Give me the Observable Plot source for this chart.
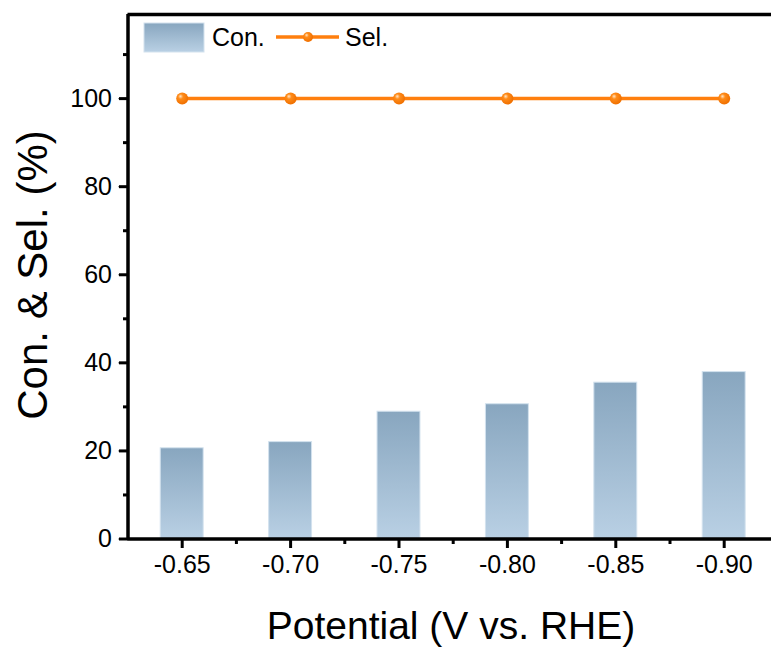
<!DOCTYPE html>
<html>
<head>
<meta charset="utf-8">
<script src="https://cdn.jsdelivr.net/npm/d3@7"></script>
<script src="https://cdn.jsdelivr.net/npm/@observablehq/plot@0.6"></script>
<style>
  html, body { margin: 0; padding: 0; background: #fff; }
  #chart svg { display: block; }
</style>
</head>
<body>
<div id="chart"></div>
<script>
// ---- data ----
const potentials = [-0.65, -0.70, -0.75, -0.80, -0.85, -0.90];
const xTickLabels = ["-0.65", "-0.70", "-0.75", "-0.80", "-0.85", "-0.90"];
const conversion = [20.6, 22.0, 28.9, 30.6, 35.5, 37.9];
const selectivity = [100, 100, 100, 100, 100, 100];
const yTicks = [0, 20, 40, 60, 80, 100];
const yMinorTicks = [10, 30, 50, 70, 90, 110];
const xMinorTicks = [-0.675, -0.725, -0.775, -0.825, -0.875];

const rows = potentials.map((p, i) => ({p, con: conversion[i], sel: selectivity[i]}));
const halfBar = 0.0099;
const xStart = -0.625, xEnd = -0.925, yTop = 119.1;
const font = "Liberation Sans, Arial, sans-serif";
const orange = "#ff7f0e";

// tick glyphs drawn as custom dot symbols (length in px)
const hTick = len => ({draw(c) { c.moveTo(0, 0); c.lineTo(-len, 0); }});
const vTick = len => ({draw(c) { c.moveTo(0, 0); c.lineTo(0, len); }});

const chart = Plot.plot({
  width: 771,
  height: 648,
  marginLeft: 127.5,
  marginRight: 0,
  marginTop: 14,
  marginBottom: 110,
  style: {fontFamily: font, background: "#fff", color: "#000"},
  x: {domain: [xStart, xEnd], range: [127.5, 777.9]},
  y: {domain: [0, yTop], range: [538.5, 14]},
  marks: [
    Plot.rectY(rows, {
      x1: d => d.p + halfBar, x2: d => d.p - halfBar, y1: 0, y2: "con",
      fill: "url(#barGrad)", stroke: "#d3e2ee", strokeWidth: 1
    }),
    Plot.line(rows, {x: "p", y: "sel", stroke: orange, strokeWidth: 3.5}),
    Plot.dot(rows, {x: "p", y: "sel", r: 6, fill: "url(#ballGrad)", stroke: null}),
    // tick labels
    Plot.axisY(yTicks, {tickSize: 9, tickPadding: 7, fontSize: 25, label: null}),
    Plot.axisX(potentials, {tickSize: 8, tickPadding: 9, fontSize: 25, tickFormat: (d, i) => xTickLabels[i], label: null}),
    // thick tick marks
    Plot.dot(yTicks, {x: () => xStart, y: d => d, symbol: hTick(9), fill: "none", stroke: "#000", strokeWidth: 3}),
    Plot.dot(yMinorTicks, {x: () => xStart, y: d => d, symbol: hTick(5), fill: "none", stroke: "#000", strokeWidth: 3}),
    Plot.dot(potentials, {x: d => d, y: () => 0, symbol: vTick(9), fill: "none", stroke: "#000", strokeWidth: 3}),
    Plot.dot(xMinorTicks, {x: d => d, y: () => 0, symbol: vTick(5), fill: "none", stroke: "#000", strokeWidth: 3}),
    // frame lines
    Plot.ruleX([xStart], {strokeWidth: 3.5}),
    Plot.ruleY([0], {strokeWidth: 3.5}),
    Plot.ruleY([yTop], {strokeWidth: 3.5})
  ]
});

const svg = d3.select(chart);
svg.selectAll("text").style("font-size", "25px");

const defs = svg.insert("defs", ":first-child");
const lg = defs.append("linearGradient").attr("id", "barGrad").attr("x1", 0).attr("y1", 0).attr("x2", 0).attr("y2", 1);
lg.append("stop").attr("offset", "0%").attr("stop-color", "#88a6bf");
lg.append("stop").attr("offset", "100%").attr("stop-color", "#b9d0e4");
const rg = defs.append("radialGradient").attr("id", "ballGrad").attr("cx", "40%").attr("cy", "38%").attr("r", "60%").attr("fx", "35%").attr("fy", "30%");
rg.append("stop").attr("offset", "0%").attr("stop-color", "#ffe6c8");
rg.append("stop").attr("offset", "35%").attr("stop-color", "#ff8c1a");
rg.append("stop").attr("offset", "100%").attr("stop-color", "#f07000");

// legend
const leg = svg.append("g").attr("text-anchor", "start");
leg.append("rect").attr("x", 144).attr("y", 23).attr("width", 60).attr("height", 29)
  .attr("fill", "url(#barGrad)").attr("stroke", "#d3e2ee").attr("stroke-width", 1);
leg.append("text").attr("x", 212).attr("y", 46).attr("font-size", 25).attr("font-family", font).text("Con.");
leg.append("line").attr("x1", 276).attr("x2", 339).attr("y1", 37).attr("y2", 37).attr("stroke", orange).attr("stroke-width", 3.5);
leg.append("circle").attr("cx", 308).attr("cy", 37).attr("r", 5).attr("fill", "url(#ballGrad)");
leg.append("text").attr("x", 345).attr("y", 46).attr("font-size", 25).attr("font-family", font).text("Sel.");

// axis titles
svg.append("text").attr("x", 451).attr("y", 639).attr("text-anchor", "middle")
  .attr("font-size", 39).attr("font-family", font).text("Potential (V vs. RHE)");
svg.append("text").attr("transform", "translate(47,275) rotate(-90)").attr("text-anchor", "middle")
  .attr("font-size", 42).attr("font-family", font).text("Con. & Sel. (%)");

document.getElementById("chart").appendChild(chart);
</script>
</body>
</html>
